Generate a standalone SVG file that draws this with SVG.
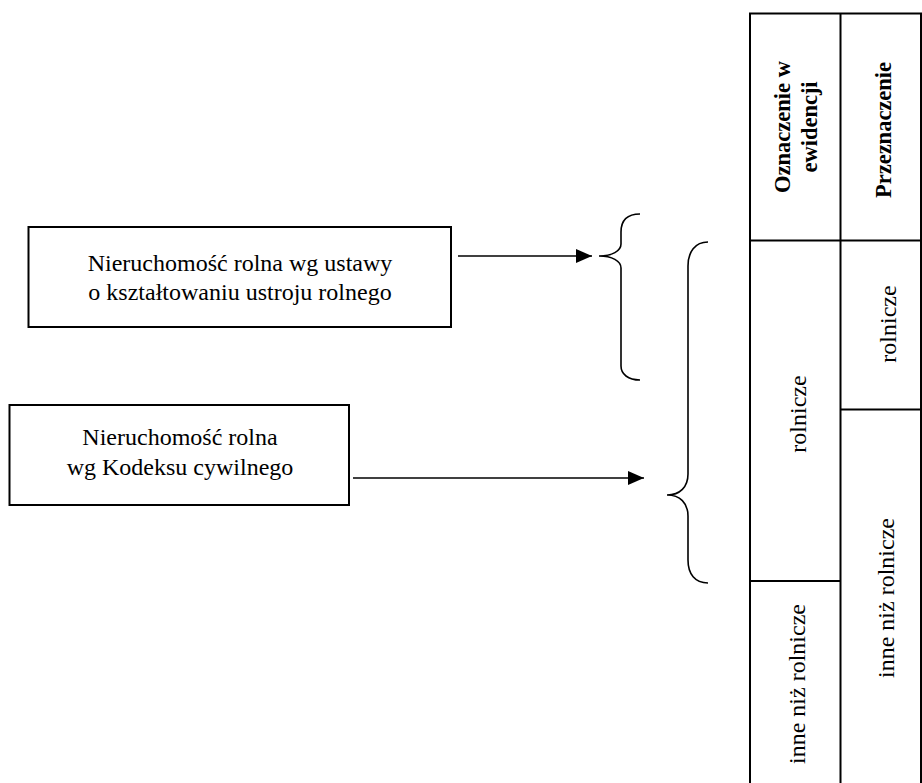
<svg xmlns="http://www.w3.org/2000/svg" width="922" height="783" viewBox="0 0 922 783">
<style>
.box{fill:#fff;stroke:#000;stroke-width:2}
.tbl{fill:none;stroke:#000;stroke-width:2}
.brace{fill:none;stroke:#000;stroke-width:1.6}
.conn{fill:none;stroke:#000;stroke-width:1.6}
text{font-family:"Liberation Serif","Times New Roman",serif;font-size:24px;fill:#000}
.c{text-anchor:middle}
.b{font-weight:bold;font-size:22.5px}
</style>
<defs>
<marker id="ah" markerUnits="userSpaceOnUse" markerWidth="17" markerHeight="14" refX="16" refY="7" orient="auto">
<path d="M0,0 L16,7 L0,14 Z" fill="#000"/>
</marker>
</defs>
<rect width="922" height="783" fill="#fff"/>
<g id="node-ustawa">
<rect class="box" x="28.5" y="227" width="422.5" height="100"/>
<text class="c" x="240" y="271">Nieruchomość rolna wg ustawy</text>
<text class="c" x="240" y="300">o kształtowaniu ustroju rolnego</text>
</g>
<g id="node-kc">
<rect class="box" x="9.5" y="405" width="339.5" height="100"/>
<text class="c" x="180" y="445">Nieruchomość rolna</text>
<text class="c" x="180" y="475">wg Kodeksu cywilnego</text>
</g>
<g id="brace-small">
<path class="brace" d="M640,214 C628,214 621,220 621,232 L621,244 C621,251 612,256 599,256 C612,256 621,261 621,268 L621,366 C621,374 628,380 640,380"/>
</g>
<g id="brace-large">
<path class="brace" d="M708,242 C695,242 688,252 688,266 L688,474 C688,487 680,495 667,495 C680,495 688,503 688,516 L688,560 C688,574 695,583 708,583"/>
</g>
<g id="connectors">
<line class="conn" x1="458" y1="256" x2="592" y2="256" marker-end="url(#ah)"/>
<line class="conn" x1="353" y1="478" x2="644" y2="478" marker-end="url(#ah)"/>
</g>
<g id="table">
<path class="tbl" d="M750,790 L750,13.5 L921,13.5 L921,790 M840.5,13.5 L840.5,790 M750,240.5 L921,240.5 M750,581 L840.5,581 M840.5,409.5 L921,409.5"/>
<text class="c b" transform="translate(790,127) rotate(-90)">Oznaczenie w</text>
<text class="c b" transform="translate(817,127) rotate(-90)">ewidencji</text>
<text class="c b" transform="translate(891,130) rotate(-90)">Przeznaczenie</text>
<text class="c" transform="translate(806,414) rotate(-90)">rolnicze</text>
<text class="c" transform="translate(896,324) rotate(-90)">rolnicze</text>
<text class="c" transform="translate(805,684) rotate(-90)">inne niż rolnicze</text>
<text class="c" transform="translate(894,598) rotate(-90)">inne niż rolnicze</text>
</g>
</svg>
